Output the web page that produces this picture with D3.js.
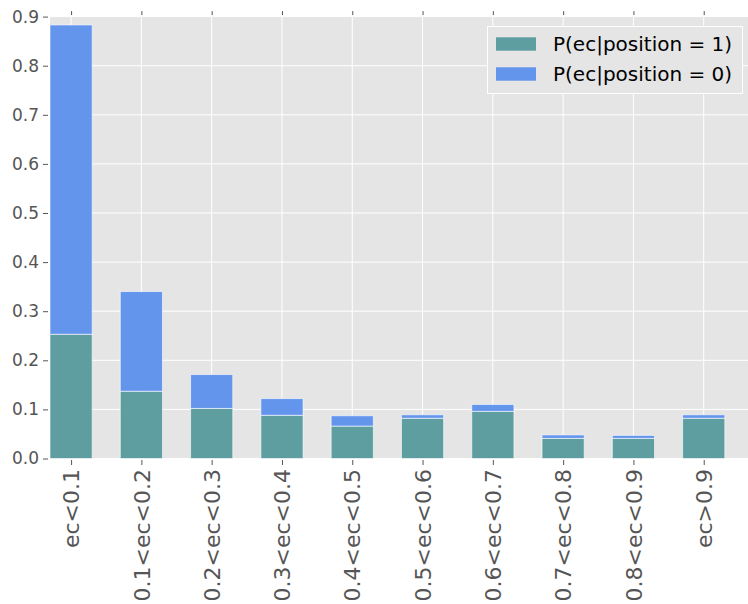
<!DOCTYPE html>
<html>
<head>
<meta charset="utf-8">
<script src="https://cdn.jsdelivr.net/npm/d3@7"></script>
<style>
  html, body { margin: 0; padding: 0; background: #ffffff; }
  svg { display: block; }
  text { font-family: "DejaVu Sans", sans-serif; }
</style>
</head>
<body>
<script>
const categories = ["ec<0.1", "0.1<ec<0.2", "0.2<ec<0.3", "0.3<ec<0.4", "0.4<ec<0.5",
                    "0.5<ec<0.6", "0.6<ec<0.7", "0.7<ec<0.8", "0.8<ec<0.9", "ec>0.9"];
const pos1 = [0.253, 0.137, 0.102, 0.088, 0.066, 0.082, 0.096, 0.041, 0.041, 0.082];
const pos0 = [0.630, 0.203, 0.069, 0.034, 0.021, 0.007, 0.014, 0.007, 0.006, 0.007];
const seriesNames = ["P(ec|position = 1)", "P(ec|position = 0)"];
const seriesColors = ["#5F9EA0", "#6495ED"];
const yTicks = [0.0, 0.1, 0.2, 0.3, 0.4, 0.5, 0.6, 0.7, 0.8, 0.9];

(function () {
const W = 748, H = 604;
const pL = 50, pR = 748, pT = 16.6, pB = 458.5;

const svg = d3.select("body").append("svg").attr("width", W).attr("height", H);

const x = d3.scaleLinear().domain([-0.3, 9.63]).range([pL, pR]);
const y = d3.scaleLinear().domain([0, 0.9]).range([pB, pT]);
const barW = x(0.6) - x(0);

// background
svg.append("rect").attr("x", pL).attr("y", pT)
  .attr("width", pR - pL).attr("height", pB - pT).attr("fill", "#E5E5E5");

// grid
const grid = svg.append("g");
grid.selectAll("line.h").data(yTicks).join("line")
  .attr("x1", pL).attr("x2", pR)
  .attr("y1", d => y(d)).attr("y2", d => y(d))
  .attr("stroke", "#ffffff").attr("stroke-width", 1);
grid.selectAll("line.v").data(categories.map((c, i) => i)).join("line")
  .attr("x1", d => x(d)).attr("x2", d => x(d))
  .attr("y1", pT).attr("y2", pB)
  .attr("stroke", "#ffffff").attr("stroke-width", 1);

// bars
const data = categories.map((c, i) => ({ i, a: pos1[i], b: pos0[i] }));
const bars = svg.append("g");
bars.selectAll("rect.s1").data(data).join("rect")
  .attr("x", d => x(d.i) - barW / 2).attr("width", barW)
  .attr("y", d => y(d.a)).attr("height", d => y(0) - y(d.a))
  .attr("fill", seriesColors[0]).attr("stroke", "rgba(255,255,255,0.6)").attr("stroke-width", 1);
bars.selectAll("rect.s0").data(data).join("rect")
  .attr("x", d => x(d.i) - barW / 2).attr("width", barW)
  .attr("y", d => y(d.a + d.b)).attr("height", d => y(d.a) - y(d.a + d.b))
  .attr("fill", seriesColors[1]).attr("stroke", "rgba(255,255,255,0.6)").attr("stroke-width", 1);

// axes
const yAxis = d3.axisLeft(y).tickValues(yTicks).tickFormat(d3.format(".1f"))
  .tickSizeInner(5).tickSizeOuter(0).tickPadding(4);
const gy = svg.append("g").attr("transform", `translate(${pL - 2},0)`).call(yAxis);
gy.select(".domain").remove();
gy.selectAll("line").attr("stroke", "#555555");
gy.selectAll("text").attr("fill", "#555555").attr("font-size", "17px");

const xAxis = d3.axisBottom(x).tickValues(categories.map((c, i) => i))
  .tickFormat(i => categories[i]).tickSizeInner(5).tickSizeOuter(0).tickPadding(4);
const gx = svg.append("g").attr("transform", `translate(0,${pB + 1.5})`).call(xAxis);
gx.select(".domain").remove();
gx.selectAll("line").attr("stroke", "#555555");
gx.selectAll("text").attr("fill", "#555555").attr("font-size", "22px")
  .attr("transform", "rotate(-90)")
  .attr("text-anchor", "end")
  .attr("x", -9).attr("y", 0).attr("dy", "0.35em");

const xAxisTop = d3.axisTop(x).tickValues(categories.map((c, i) => i))
  .tickFormat("").tickSizeInner(4).tickSizeOuter(0);
const gxt = svg.append("g").attr("transform", `translate(0,${pT - 1.5})`).call(xAxisTop);
gxt.select(".domain").remove();
gxt.selectAll("line").attr("stroke", "#555555");

// legend
const lg = svg.append("g");
lg.append("rect").attr("x", 487.5).attr("y", 26.5).attr("width", 255).attr("height", 67)
  .attr("fill", "#E5E5E5").attr("stroke", "#ffffff").attr("stroke-width", 1);
seriesNames.forEach((name, k) => {
  const cy = 44 + k * 30;
  lg.append("rect").attr("x", 496).attr("y", cy - 6.7).attr("width", 40).attr("height", 13.4)
    .attr("fill", seriesColors[k]);
  lg.append("text").attr("x", 553).attr("y", cy).attr("dy", "0.35em")
    .attr("font-size", "20px").attr("fill", "#000000").text(name);
});
})();
</script>
</body>
</html>
